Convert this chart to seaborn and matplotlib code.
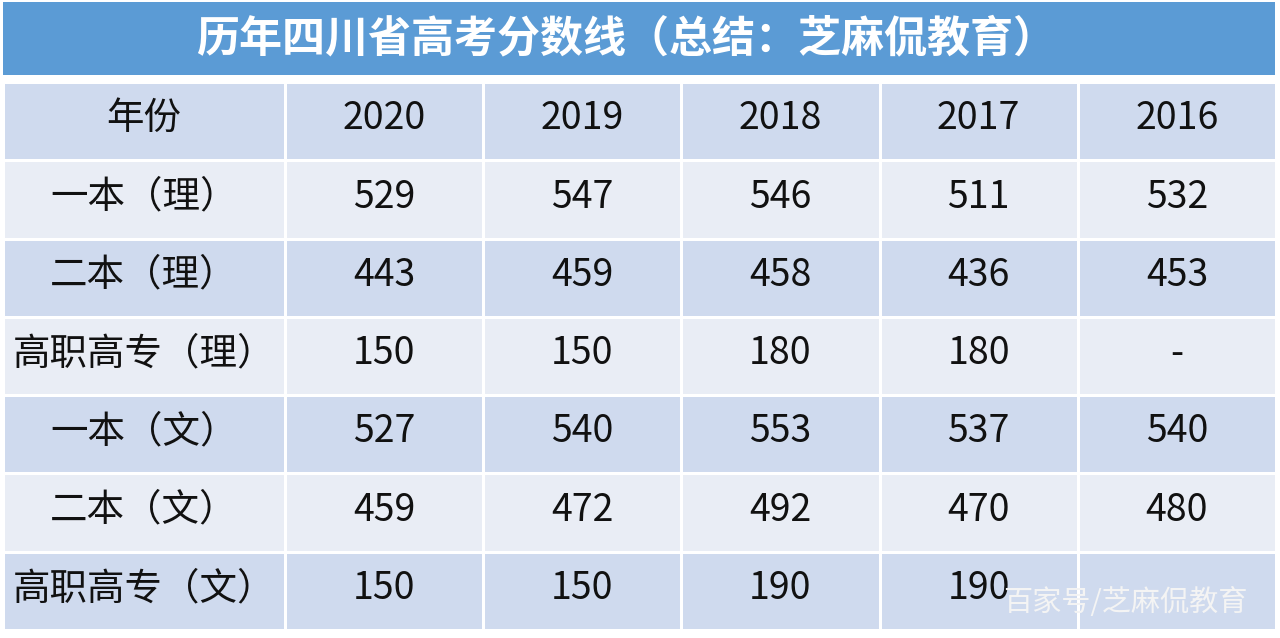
import matplotlib
matplotlib.use("Agg")
import matplotlib.pyplot as plt
import seaborn as sns
import numpy as np
from matplotlib.colors import ListedColormap

sns.set_theme(style="white")
plt.rcParams['font.family'] = ['Noto Sans CJK SC', 'DejaVu Sans']

title = "历年四川省高考分数线（总结：芝麻侃教育）"
corner = "年份"
years = ["2020", "2019", "2018", "2017", "2016"]
row_labels = ["一本（理）", "二本（理）", "高职高专（理）", "一本（文）", "二本（文）", "高职高专（文）"]
v2020 = ["529", "443", "150", "527", "459", "150"]
v2019 = ["547", "459", "150", "540", "472", "150"]
v2018 = ["546", "458", "180", "553", "492", "190"]
v2017 = ["511", "436", "180", "537", "470", "190"]
v2016 = ["532", "453", "-", "540", "480", ""]
watermark = "百家号/芝麻侃教育"

W, H = 1280, 638
fig = plt.figure(figsize=(W/100, H/100), dpi=100)
fig.patch.set_facecolor("white")

tax = fig.add_axes([3/W, 1-75/H, 1272/W, 73/H])
tax.set_facecolor("#5B9BD5"); tax.set_xticks([]); tax.set_yticks([])
for s in tax.spines.values(): s.set_visible(False)
tax.text(0.49, 0.5, title, color="white", fontsize=31, fontweight="bold",
         ha="center", va="center", transform=tax.transAxes)

cols = [v2020, v2019, v2018, v2017, v2016]
nrows = len(row_labels) + 1
shade = np.array([[(i % 2 == 0)] for i in range(nrows)], dtype=float)
cmap = ListedColormap(["#E9EDF5", "#CFDAEE"])
top, bottom = 82, 630
y0 = 1 - bottom/H; hh = (bottom-top)/H

def draw(ax, texts, ncols):
    data = np.repeat(shade, ncols, axis=1)
    sns.heatmap(data, ax=ax, cmap=cmap, vmin=0, vmax=1, cbar=False,
                linewidths=2, linecolor="white", xticklabels=False, yticklabels=False)
    for r in range(nrows):
        for c in range(ncols):
            ax.text(c+0.5, r+0.47, texts[r][c], ha="center", va="center",
                    fontsize=27, color="#111111")

ax1 = fig.add_axes([3/W, y0, 282/W, hh])
draw(ax1, [[corner]] + [[l] for l in row_labels], 1)
ax2 = fig.add_axes([285/W, y0, (1276-285)/W, hh])
texts = [years] + [[cols[c][r] for c in range(5)] for r in range(len(row_labels))]
draw(ax2, texts, 5)

fig.text(1125/W, 1-603/H, watermark, color="#F4F4F4", fontsize=21,
         ha="center", va="center")
fig.savefig("out.png", dpi=100)
